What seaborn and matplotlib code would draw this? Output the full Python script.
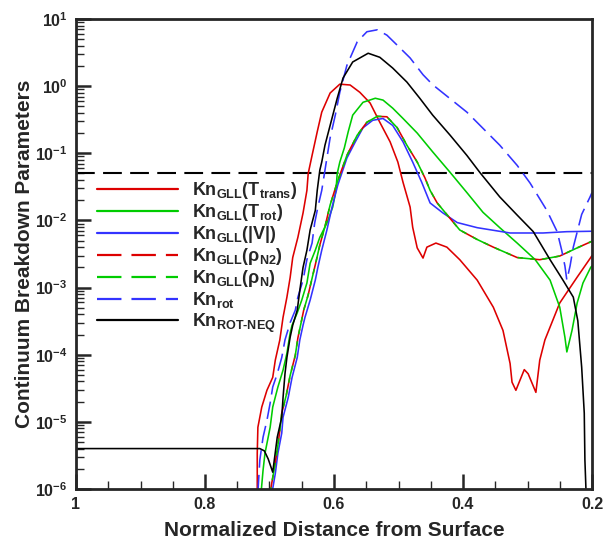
import numpy as np
import pandas as pd
import matplotlib
matplotlib.use("Agg")
import matplotlib.pyplot as plt
import seaborn as sns
from matplotlib.ticker import FuncFormatter, LogLocator, MultipleLocator, NullFormatter, FixedLocator

# ---------------- data ----------------
x_trans = [0.719, 0.719, 0.718, 0.712, 0.704, 0.695, 0.691, 0.684, 0.679, 0.673, 0.668, 0.664,
           0.656, 0.648, 0.642, 0.640, 0.634, 0.626, 0.619, 0.606, 0.591, 0.575, 0.560, 0.544,
           0.529, 0.513, 0.501, 0.493, 0.482, 0.478, 0.471, 0.462, 0.456, 0.442, 0.425, 0.405,
           0.378, 0.353, 0.338, 0.327, 0.324, 0.318, 0.305, 0.299, 0.287, 0.281, 0.273, 0.250,
           0.223, 0.202, 0.200]
y_trans = [8.9e-7, 3.4e-6, 8.3e-6, 1.66e-5, 2.95e-5, 4.6e-5, 8.3e-5, 1.66e-4, 3.6e-4, 7.2e-4,
           1.41e-3, 2.8e-3, 5.6e-3, 1.29e-2, 2.8e-2, 5.0e-2, 9.3e-2, 0.209, 0.41, 0.79, 1.07, 1.04,
           0.81, 0.56, 0.29, 0.148, 7.4e-2, 3.7e-2, 1.58e-2, 7.9e-3, 3.9e-3, 2.75e-3, 4.0e-3,
           4.6e-3, 4.0e-3, 2.6e-3, 1.29e-3, 5.1e-4, 2.3e-4, 7.4e-5, 3.9e-5, 2.95e-5, 6.0e-5,
           5.2e-5, 2.75e-5, 8.3e-5, 1.66e-4, 5.9e-4, 1.43e-3, 2.8e-3, 3.0e-3]

x_rot = [0.713, 0.710, 0.707, 0.699, 0.695, 0.687, 0.679, 0.673, 0.668, 0.665, 0.657, 0.650,
         0.642, 0.637, 0.629, 0.622, 0.611, 0.602, 0.597, 0.595, 0.591, 0.584, 0.578, 0.571,
         0.555, 0.536, 0.524, 0.509, 0.493, 0.471, 0.447, 0.420, 0.394, 0.369, 0.343, 0.316,
         0.288, 0.265, 0.250, 0.242, 0.239, 0.231, 0.223, 0.214, 0.202, 0.200]
y_rot = [8.9e-7, 1.9e-6, 3.4e-6, 8.3e-6, 1.66e-5, 3.3e-5, 5.9e-5, 1.05e-4, 2.1e-4, 2.75e-4,
         4.2e-4, 6.5e-4, 1.17e-3, 2.3e-3, 3.6e-3, 5.6e-3, 9.1e-3, 1.58e-2, 2.8e-2, 5.0e-2,
         7.4e-2, 0.12, 0.209, 0.37, 0.575, 0.66, 0.62, 0.47, 0.33, 0.20, 0.105, 5.2e-2, 2.6e-2,
         1.32e-2, 7.8e-3, 4.6e-3, 2.6e-3, 1.29e-3, 5.1e-4, 1.82e-4, 1.1e-4, 2.3e-4, 5.9e-4,
         1.17e-3, 2.0e-3, 2.1e-3]

x_vel = [0.696, 0.691, 0.687, 0.681, 0.679, 0.671, 0.665, 0.657, 0.653, 0.648, 0.645, 0.637,
         0.629, 0.625, 0.619, 0.611, 0.603, 0.594, 0.580, 0.567, 0.555, 0.540, 0.524, 0.509,
         0.493, 0.478, 0.464, 0.451, 0.431, 0.409, 0.378, 0.327, 0.276, 0.239, 0.200]
y_vel = [8.9e-7, 1.7e-6, 3.4e-6, 6.8e-6, 1.17e-5, 2.3e-5, 4.6e-5, 9.1e-5, 1.66e-4, 2.75e-4,
         3.6e-4, 6.5e-4, 1.29e-3, 2.0e-3, 3.6e-3, 7.2e-3, 1.58e-2, 3.4e-2, 8.5e-2, 0.148, 0.24,
         0.31, 0.33, 0.26, 0.148, 7.4e-2, 3.7e-2, 1.82e-2, 1.29e-2, 9.3e-3, 7.8e-3, 6.5e-3,
         6.5e-3, 6.8e-3, 6.9e-3]

x_rho = [0.699, 0.693, 0.688, 0.684, 0.681, 0.674, 0.668, 0.660, 0.656, 0.651, 0.647, 0.640,
         0.633, 0.628, 0.622, 0.614, 0.606, 0.595, 0.580, 0.564, 0.549, 0.533, 0.518, 0.502,
         0.487, 0.471, 0.459, 0.451, 0.440, 0.405, 0.378, 0.353, 0.316, 0.281, 0.250, 0.223,
         0.200]
y_rho_n2 = [8.9e-7, 1.9e-6, 3.8e-6, 7.4e-6, 1.35e-5, 2.5e-5, 4.9e-5, 9.8e-5, 1.78e-4, 3.0e-4,
            4.6e-4, 7.8e-4, 1.51e-3, 2.4e-3, 4.3e-3, 8.1e-3, 1.7e-2, 3.7e-2, 9.3e-2, 0.186,
            0.29, 0.355, 0.35, 0.24, 0.132, 7.4e-2, 4.3e-2, 2.8e-2, 1.82e-2, 7.2e-3, 5.2e-3,
            4.0e-3, 2.8e-3, 2.6e-3, 2.95e-3, 3.9e-3, 4.9e-3]
y_rho_n = [8.9e-7, 1.9e-6, 3.8e-6, 7.4e-6, 1.35e-5, 2.5e-5, 4.9e-5, 9.8e-5, 1.78e-4, 3.0e-4,
           4.6e-4, 7.8e-4, 1.51e-3, 2.4e-3, 4.3e-3, 8.1e-3, 1.7e-2, 3.7e-2, 9.3e-2, 0.186,
           0.29, 0.355, 0.35, 0.24, 0.132, 7.4e-2, 4.3e-2, 2.8e-2, 1.82e-2, 7.2e-3, 5.2e-3,
           4.0e-3, 2.8e-3, 2.6e-3, 2.95e-3, 3.9e-3, 4.9e-3]

x_knrot = [0.718, 0.715, 0.710, 0.704, 0.699, 0.695, 0.688, 0.681, 0.676, 0.668, 0.660, 0.656,
           0.648, 0.642, 0.634, 0.630, 0.625, 0.619, 0.614, 0.611, 0.606, 0.598, 0.591, 0.580,
           0.564, 0.549, 0.533, 0.518, 0.502, 0.482, 0.462, 0.447, 0.394, 0.343, 0.316, 0.296,
           0.270, 0.254, 0.247, 0.242, 0.239, 0.234, 0.229, 0.216, 0.203, 0.200]
y_knrot = [8.9e-7, 2.7e-6, 5.9e-6, 1.05e-5, 1.9e-5, 3.3e-5, 5.2e-5, 9.1e-5, 1.66e-4, 3.0e-4,
           4.6e-4, 7.2e-4, 1.29e-3, 2.6e-3, 4.6e-3, 9.1e-3, 1.58e-2, 2.8e-2, 5.6e-2, 8.5e-2,
           0.17, 0.37, 0.81, 2.04, 4.57, 6.46, 6.9, 5.75, 4.07, 2.63, 1.48, 1.05, 0.41, 0.132,
           6.6e-2, 3.6e-2, 1.41e-2, 6.8e-3, 3.6e-3, 2.1e-3, 1.29e-3, 2.1e-3, 4.0e-3, 1.23e-2,
           2.24e-2, 2.6e-2]

x_neq = [1.0, 0.75, 0.715, 0.708, 0.702, 0.695, 0.688, 0.681, 0.679, 0.676, 0.673, 0.668,
         0.664, 0.657, 0.653, 0.648, 0.642, 0.637, 0.629, 0.626, 0.622, 0.619, 0.614, 0.606,
         0.595, 0.586, 0.571, 0.547, 0.529, 0.509, 0.487, 0.467, 0.447, 0.420, 0.394, 0.374,
         0.343, 0.316, 0.291, 0.265, 0.245, 0.229, 0.222, 0.216, 0.212, 0.211, 0.209]
y_neq = [4.0e-6, 4.0e-6, 4.0e-6, 3.7e-6, 2.8e-6, 1.78e-6, 5.9e-6, 1.17e-5, 2.3e-5, 5.2e-5,
         9.1e-5, 1.82e-4, 2.75e-4, 4.6e-4, 9.1e-4, 2.0e-3, 3.6e-3, 7.2e-3, 1.41e-2, 2.8e-2,
         5.6e-2, 7.4e-2, 0.132, 0.26, 0.66, 1.32, 2.29, 3.09, 2.69, 1.86, 1.15, 0.66, 0.37,
         0.186, 9.3e-2, 5.2e-2, 2.24e-2, 1.2e-2, 6.8e-3, 2.6e-3, 1.29e-3, 7.2e-4, 3.2e-4,
         6.5e-5, 1.35e-5, 2.7e-6, 7.9e-7]

threshold = 0.05

labels = [r"Kn$_{GLL}$(T$_{trans}$)", r"Kn$_{GLL}$(T$_{rot}$)", r"Kn$_{GLL}$(|V|)",
          r"Kn$_{GLL}$($\rho_{N2}$)", r"Kn$_{GLL}$($\rho_{N}$)", r"Kn$_{rot}$",
          r"Kn$_{ROT\text{-}NEQ}$"]
x_ticks = [1.0, 0.8, 0.6, 0.4, 0.2]
x_ticklabels = ["1", "0.8", "0.6", "0.4", "0.2"]
y_ticks = [1e-6, 1e-5, 1e-4, 1e-3, 1e-2, 1e-1, 1e0, 1e1]

# ---------------- style ----------------
sns.set_style("ticks")
plt.rcParams["font.family"] = ["Liberation Sans", "DejaVu Sans"]
plt.rcParams["font.weight"] = "bold"
plt.rcParams["mathtext.fontset"] = "custom"
plt.rcParams["mathtext.rm"] = "Liberation Sans:bold"
plt.rcParams["mathtext.bf"] = "Liberation Sans:bold"
plt.rcParams["mathtext.it"] = "Liberation Sans:bold"
plt.rcParams["mathtext.default"] = "bf"

RED, GREEN, BLUE, BLACK = "#dd0000", "#00cc00", "#3333ff", "#000000"
LW = 1.15
DASH = (0, (11, 4.5))
DASH_OFF = (7.75, (11, 4.5))

fig = plt.figure(figsize=(6.05, 5.42), dpi=100)
ax = fig.add_axes([76 / 605, 1 - 489 / 542, (592 - 76) / 605, (489 - 19) / 542])

series = [
    (x_trans, y_trans, RED, "-", labels[0]),
    (x_rot, y_rot, GREEN, "-", labels[1]),
    (x_vel, y_vel, BLUE, "-", labels[2]),
    (x_rho, y_rho_n2, RED, DASH, labels[3]),
    (x_rho, y_rho_n, GREEN, DASH_OFF, labels[4]),
    (x_knrot, y_knrot, BLUE, DASH, labels[5]),
    (x_neq, y_neq, BLACK, "-", labels[6]),
]
for xs, ys, col, ls, lab in series:
    df = pd.DataFrame({"x": xs, "y": ys})
    sns.lineplot(data=df, x="x", y="y", ax=ax, color=col, linestyle=ls, linewidth=LW,
                 label=lab, sort=False, estimator=None)

ax.axhline(threshold, color="black", linewidth=1.5, linestyle=(0, (9, 4)), zorder=1)

ax.set_yscale("log")
ax.set_xlim(1.0, 0.2)

ax.set_xticks(x_ticks)
ax.set_xticklabels(x_ticklabels)
ax.xaxis.set_minor_locator(MultipleLocator(0.05))
ax.yaxis.set_major_locator(FixedLocator(y_ticks))
ax.yaxis.set_minor_locator(LogLocator(base=10, subs=np.arange(2, 10), numticks=100))
ax.yaxis.set_minor_formatter(NullFormatter())
ax.yaxis.set_major_formatter(FuncFormatter(lambda v, p: r"$\mathbf{10^{%d}}$" % int(round(np.log10(v)))))
ax.set_ylim(1e-6, 10)

ax.tick_params(axis="both", which="major", direction="in", length=11, width=1.8,
               labelsize=11.5, pad=6, top=False, right=False)
ax.tick_params(axis="both", which="minor", direction="in", length=6, width=1.0,
               top=False, right=False)
for t in ax.get_xticklabels() + ax.get_yticklabels():
    t.set_fontweight("bold")

for sp in ax.spines.values():
    sp.set_linewidth(2.0)
    sp.set_visible(True)

ax.set_xlabel("Normalized Distance from Surface", fontsize=15, fontweight="bold", labelpad=6)
ax.set_ylabel("Continuum Breakdown Parameters", fontsize=15, fontweight="bold", labelpad=1)

leg = ax.legend(loc="upper left", bbox_to_anchor=(97 / 605, 1 - 180 / 542),
                bbox_transform=fig.transFigure, frameon=False, fontsize=13,
                handlelength=4.5, handletextpad=0.75, labelspacing=0.06, borderpad=0,
                borderaxespad=0)
for line in leg.get_lines():
    line.set_linewidth(1.6)
    if line.get_color() == GREEN and line.get_linestyle() != "-":
        line.set_linestyle(DASH)

fig.savefig("out.png", dpi=100)
